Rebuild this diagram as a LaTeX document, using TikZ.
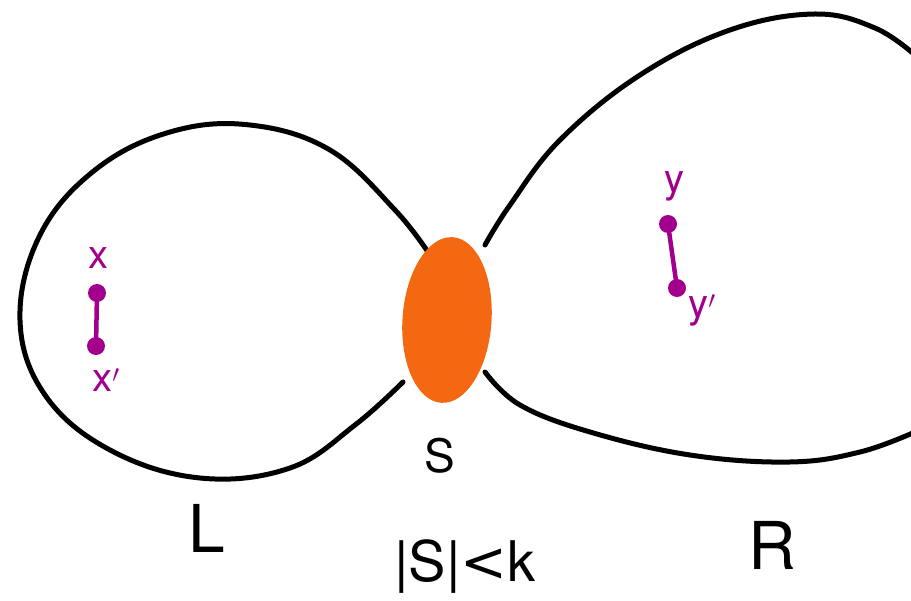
\documentclass[tikz,border=0pt]{standalone}
\usepackage{fontspec}
\setmainfont{TeX Gyre Heros}
\newfontfamily\symfont{DejaVu Sans}
\usetikzlibrary{shapes.geometric}
\definecolor{blob}{RGB}{244,104,18}
\definecolor{mag}{RGB}{162,0,140}
\tikzset{
  loop/.style={line width=5pt, line cap=round, line join=round},
  seg/.style={mag, line width=4.5pt, line cap=round},
  dot/.style={circle, fill=mag, inner sep=0pt, minimum size=18pt},
  lab/.style={mag, font=\fontsize{40}{40}\selectfont},
  big/.style={font=\fontsize{66}{66}\selectfont}
}
\begin{document}
\begin{tikzpicture}[x=1pt,y=-1pt]
\useasboundingbox (0,0) rectangle (911,601);
% left loop
\draw[loop] plot[smooth, tension=0.65] coordinates {(430,255) (395,210) (330,150) (250,125) (170,132) (95,170) (40,235) (20,320) (45,395) (110,450) (200,478) (290,468) (355,425) (403,382)};
% right loop
\draw[loop] plot[smooth, tension=0.65] coordinates {(485,245) (510,205) (560,140) (640,75) (730,30) (815,14) (875,28) (915,55)};
\draw[loop] plot[smooth, tension=0.65] coordinates {(485,372) (520,405) (590,432) (690,455) (790,462) (860,452) (915,432)};
% separator blob
\node[ellipse, fill=blob, minimum width=89pt, minimum height=166pt, inner sep=0pt, rotate=-4] (S) at (447,320) {};
% x, x'
\node[dot] (x) at (97,293) {};
\node[dot] (xp) at (96,346) {};
\draw[seg] (x) -- (xp);
\node[lab] (xl) at (98,258) {x};
\node[lab] (xpl) at (106,380) {x$'$};
% y, y'
\node[dot] (y) at (668,224) {};
\node[dot] (yp) at (677,288) {};
\draw[seg] (y) -- (yp);
\node[lab] (yl) at (674,186) {y};
\node[lab] (ypl) at (702,310) {y$'$};
% labels
\node[font=\fontsize{46}{46}\selectfont] (Sl) at (440,456) {S};
\node[big] (Ll) at (207,528) {L};
\node[font=\fontsize{56}{56}\selectfont] (cond) at (465,567) {|S|{\symfont<}k};
\node[big] (Rl) at (772,545) {R};
\end{tikzpicture}
\end{document}
